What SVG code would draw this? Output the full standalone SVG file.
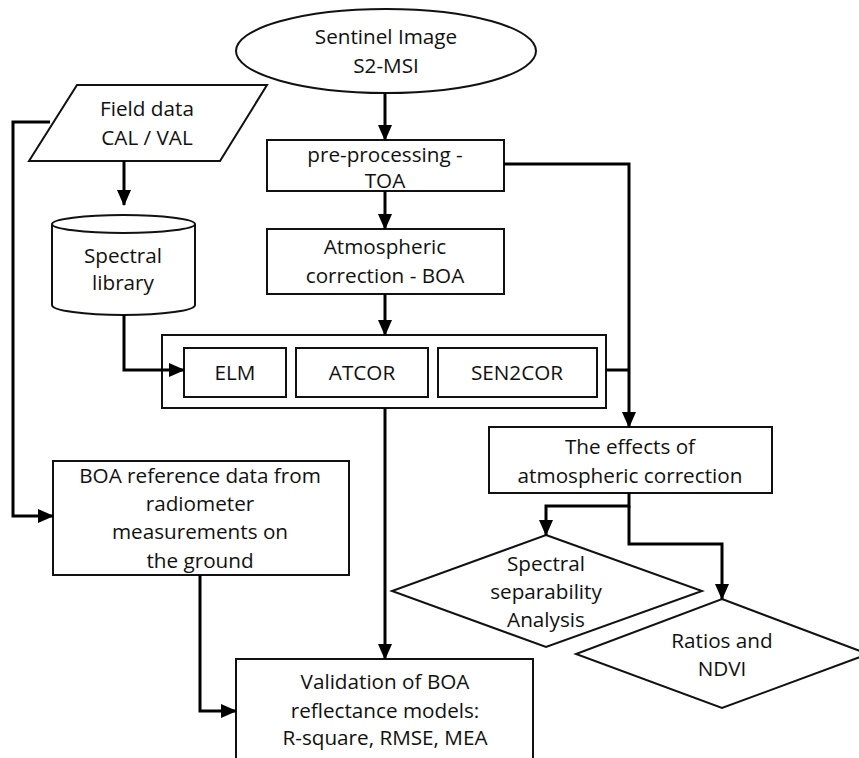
<svg xmlns="http://www.w3.org/2000/svg" width="859" height="758" viewBox="0 0 859 758">
<style>
.n{fill:#fff;stroke:#111;stroke-width:2}
.t{font-family:"Open Sans","Noto Sans",sans-serif;font-size:20.7px;fill:#111;text-anchor:middle}
.c{fill:none;stroke:#000;stroke-width:3}
</style>
<defs>
<marker id="a" markerUnits="userSpaceOnUse" markerWidth="16" markerHeight="16" viewBox="0 0 16 16" refX="15" refY="8" orient="auto">
<path d="M0,1 L16,8 L0,15 z" fill="#000"/>
</marker>
</defs>
<rect width="859" height="758" fill="#fff"/>
<g id="sentinel">
<ellipse class="n" cx="386" cy="51" rx="150" ry="42"/>
<text class="t" x="386" y="44">Sentinel Image</text>
<text class="t" x="386" y="73">S2-MSI</text>
</g>
<g id="field">
<polygon class="n" points="77,85 267,85 220,161 29,161"/>
<text class="t" x="147" y="116">Field data</text>
<text class="t" x="147" y="145">CAL / VAL</text>
</g>
<g id="library">
<path class="n" d="M52,224 V305 A71.5,10 0 0 0 195,305 V224"/>
<ellipse class="n" cx="123.5" cy="224" rx="71.5" ry="9"/>
<text class="t" x="123" y="263">Spectral</text>
<text class="t" x="123" y="290">library</text>
</g>
<g id="preproc">
<rect class="n" x="267" y="140" width="237" height="51"/>
<text class="t" x="385" y="162">pre-processing -</text>
<text class="t" x="385" y="188">TOA</text>
</g>
<g id="atmos">
<rect class="n" x="267" y="229" width="237" height="65"/>
<text class="t" x="385" y="254">Atmospheric</text>
<text class="t" x="385" y="283">correction - BOA</text>
</g>
<g id="methods">
<rect class="n" x="162" y="335" width="444" height="73"/>
<g id="elm">
<rect class="n" x="184" y="348" width="102" height="49"/>
<text class="t" x="235" y="380">ELM</text>
</g>
<g id="atcor">
<rect class="n" x="296" y="348" width="132" height="49"/>
<text class="t" x="362" y="380">ATCOR</text>
</g>
<g id="sen2cor">
<rect class="n" x="438" y="348" width="159" height="49"/>
<text class="t" x="517" y="380">SEN2COR</text>
</g>
</g>
<g id="effects">
<rect class="n" x="489" y="427" width="283" height="66"/>
<text class="t" x="630" y="454">The effects of</text>
<text class="t" x="630" y="483">atmospheric correction</text>
</g>
<g id="boa">
<rect class="n" x="53" y="461" width="296" height="114"/>
<text class="t" x="200" y="483">BOA reference data from</text>
<text class="t" x="200" y="511">radiometer</text>
<text class="t" x="200" y="539">measurements on</text>
<text class="t" x="200" y="568">the ground</text>
</g>
<g id="spectral">
<polygon class="n" points="546,535 702,591 546,647 392,591"/>
<text class="t" x="546" y="571">Spectral</text>
<text class="t" x="546" y="599">separability</text>
<text class="t" x="546" y="627">Analysis</text>
</g>
<g id="ratios">
<polygon class="n" points="722,599 868,654 722,708 576,654"/>
<text class="t" x="722" y="648">Ratios and</text>
<text class="t" x="722" y="676">NDVI</text>
</g>
<g id="validation">
<rect class="n" x="236" y="659" width="297" height="120"/>
<text class="t" x="385" y="689">Validation of BOA</text>
<text class="t" x="385" y="718">reflectance models:</text>
<text class="t" x="385" y="745">R-square, RMSE, MEA</text>
</g>
<g id="connectors">
<path class="c" d="M385,93 V140" marker-end="url(#a)"/>
<path class="c" d="M385,191 V229" marker-end="url(#a)"/>
<path class="c" d="M385,294 V335" marker-end="url(#a)"/>
<path class="c" d="M124,161 V205" marker-end="url(#a)"/>
<path class="c" d="M124,315 V370 H184" marker-end="url(#a)"/>
<path class="c" d="M50,122 H13 V516 H53" marker-end="url(#a)"/>
<path class="c" d="M504,164 H629 V427" marker-end="url(#a)"/>
<path class="c" d="M606,370 H629"/>
<path class="c" d="M629,493 V506 H546 V535" marker-end="url(#a)"/>
<path class="c" d="M629,506 V544 H722 V599" marker-end="url(#a)"/>
<path class="c" d="M385,408 V659" marker-end="url(#a)"/>
<path class="c" d="M200,575 V711 H236" marker-end="url(#a)"/>
</g>
</svg>
